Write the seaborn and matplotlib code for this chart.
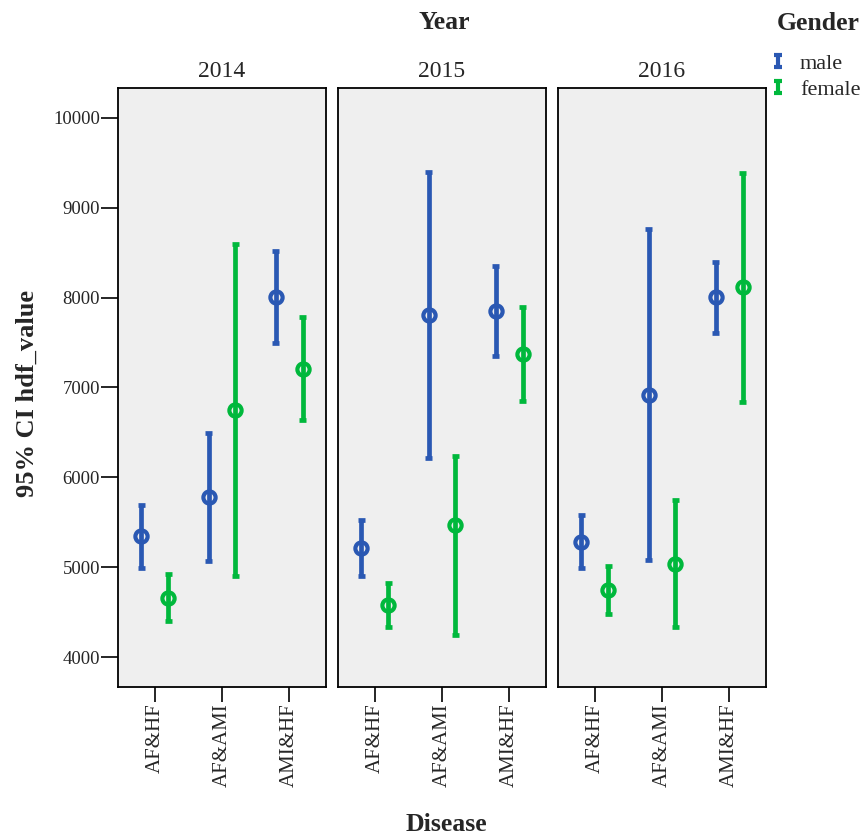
import numpy as np
import pandas as pd
import matplotlib
matplotlib.use("Agg")
import matplotlib.pyplot as plt
from matplotlib.path import Path
from matplotlib.lines import Line2D
import seaborn as sns

# ---- data ----
years = ["2014", "2015", "2016"]
diseases = ["AF&HF", "AF&AMI", "AMI&HF"]
genders = ["male", "female"]

# ordered: year-major, disease-minor
male_mean = [5345, 5780, 8010, 5215, 7810, 7855, 5285, 6915, 8005]
male_low = [4990, 5065, 7495, 4905, 6220, 7355, 4990, 5080, 7610]
male_high = [5690, 6495, 8520, 5520, 9400, 8350, 5580, 8760, 8400]
female_mean = [4660, 6750, 7205, 4580, 5465, 7375, 4745, 5035, 8115]
female_low = [4405, 4900, 6635, 4335, 4245, 6855, 4480, 4330, 6835]
female_high = [4920, 8595, 7780, 4820, 6235, 7895, 5010, 5745, 9390]

colors = {"male": "#2a58b3", "female": "#00b83c"}

rows = []
series = {"male": (male_low, male_mean, male_high),
          "female": (female_low, female_mean, female_high)}
for gd in genders:
    lo, me, hi = series[gd]
    k = 0
    for y in years:
        for d in diseases:
            for v in (lo[k], me[k], hi[k]):
                rows.append({"Year": y, "Disease": d, "Gender": gd, "hdf_value": v})
            k += 1
df = pd.DataFrame(rows)

sns.set_style("white")
plt.rcParams["font.family"] = ["Liberation Serif", "DejaVu Serif"]

g = sns.catplot(
    data=df, kind="point", x="Disease", y="hdf_value", hue="Gender", col="Year",
    order=diseases, hue_order=genders, col_order=years,
    palette=colors, estimator="median",
    errorbar=lambda v: (np.min(v), np.max(v)),
    dodge=0.4, linestyle="none", capsize=0.1,
    err_kws={"linewidth": 3.4, "solid_capstyle": "butt"},
    markers="o", markersize=8.8, markeredgewidth=3.0, markerfacecolor="none",
    legend=False, height=6, aspect=0.5,
)
fig = g.figure
fig.set_size_inches(8.66, 8.36)
fig.set_dpi(100)
fig.subplots_adjust(left=118 / 866, right=766 / 866, top=1 - 88 / 836,
                    bottom=1 - 687 / 836, wspace=12 / 208)

for i, ax in enumerate(g.axes.flat):
    ax.set_facecolor("#efefef")
    ax.set_xlim(-0.55, 2.55)
    ax.set_ylim(3667, 10333)
    ax.set_yticks([4000, 5000, 6000, 7000, 8000, 9000, 10000])
    for s in ax.spines.values():
        s.set_visible(True)
        s.set_color("black")
        s.set_linewidth(1.3)
    ax.set_title(years[i], fontsize=17, pad=8)
    ax.set_xlabel("")
    ax.set_ylabel("")
    ax.tick_params(axis="x", direction="out", length=11, width=1.4,
                   labelsize=15, labelrotation=90, bottom=True, pad=1)
    if i == 0:
        ax.tick_params(axis="y", direction="out", length=12, width=1.4,
                       labelsize=13.5, left=True, pad=1)
    else:
        ax.tick_params(axis="y", left=False, labelleft=False)

fig.text(444 / 866, 1 - 29 / 836, "Year", ha="center", va="baseline",
         fontsize=18.5, fontweight="bold")
fig.text(446 / 866, 1 - 831 / 836, "Disease", ha="center", va="baseline",
         fontsize=18.5, fontweight="bold")
fig.text(27 / 866, 1 - 393 / 836, "95% CI hdf_value", ha="center", va="center",
         rotation=90, fontsize=19, fontweight="bold")
fig.text(777 / 866, 1 - 30 / 836, "Gender", ha="left", va="baseline",
         fontsize=18.5, fontweight="bold")

# legend with I-beam handles
ibeam = Path([(0, -1), (0, 1), (-0.65, 1), (0.65, 1), (-0.65, -1), (0.65, -1)],
             [Path.MOVETO, Path.LINETO, Path.MOVETO, Path.LINETO, Path.MOVETO, Path.LINETO])
handles = [Line2D([], [], linestyle="none", marker=ibeam, markersize=8.5,
                  markeredgewidth=3.0, color=colors[gd]) for gd in genders]
fig.legend(handles, genders, loc="upper left",
           bbox_to_anchor=(772 / 866, 1 - 53 / 836), frameon=False,
           fontsize=16, handlelength=0.5, handletextpad=0.75, labelspacing=0.27,
           borderaxespad=0, borderpad=0)

fig.savefig("out.png", dpi=100)
